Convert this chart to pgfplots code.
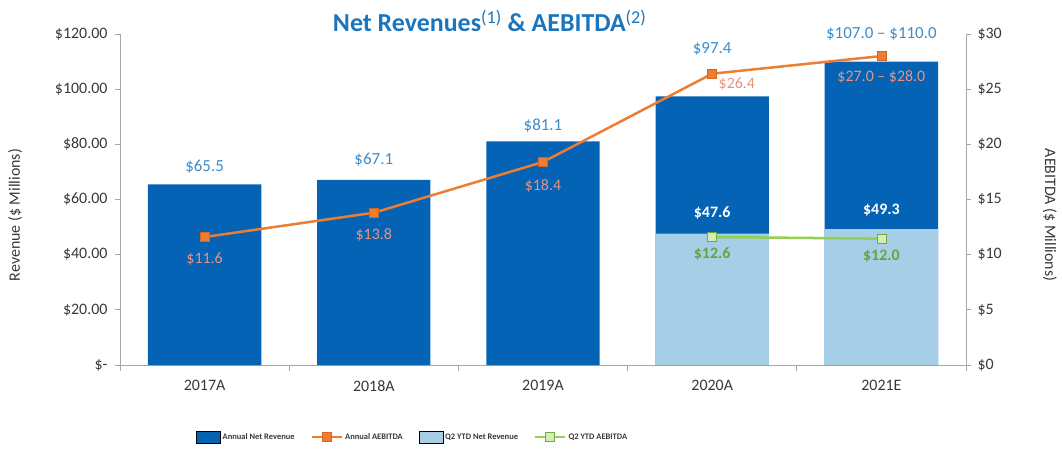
\documentclass[border=0pt]{standalone}
\usepackage{pgfplots}
\pgfplotsset{compat=1.18}
\usepackage{fontspec}
\setmainfont{Carlito}

\definecolor{darkblue}{RGB}{5,99,181}
\definecolor{lightblue}{RGB}{166,206,231}
\definecolor{aorange}{RGB}{237,125,49}
\definecolor{aorangedk}{RGB}{214,100,30}
\definecolor{qgreen}{RGB}{146,208,80}
\definecolor{qgreenfill}{RGB}{215,234,185}
\definecolor{qgreendk}{RGB}{110,170,60}
\definecolor{vblue}{RGB}{60,140,200}
\definecolor{salmon}{RGB}{230,148,130}
\definecolor{glab}{RGB}{100,165,65}
\definecolor{titleblue}{RGB}{27,117,188}
\definecolor{ticktext}{RGB}{56,56,56}
\definecolor{axisgray}{RGB}{166,166,166}

\pgfplotsset{
  swatch/.style={legend image code/.code={\fill[##1] (0bp,-6bp) rectangle (24bp,6bp);}},
  lineleg/.style={legend image code/.code={\draw[mark repeat=2,mark phase=2,##1] plot coordinates {(0bp,0bp) (15bp,0bp) (30bp,0bp)};}},
  common/.style={
    at={(0,0)}, anchor=south west,
    scale only axis, width=846bp, height=331bp,
    xmin=-0.5, xmax=4.5,
    axis line style={draw=axisgray, line width=0.8bp, -},
    tick style={draw=axisgray, line width=0.8bp},
    tick align=outside, major tick length=5bp, minor tick length=6bp,
    ticklabel style={font=\fontsize{16}{18}\selectfont, text=ticktext},
    clip=false,
  },
}
\tikzset{
  vlab/.style={font=\fontsize{17}{19}\selectfont, text=vblue},
  olab/.style={font=\fontsize{16}{18}\selectfont, text=salmon},
  glabel/.style={font=\fontsize{16}{18}\selectfont\bfseries, text=glab},
  wlab/.style={font=\fontsize{16}{18}\selectfont\bfseries, text=white},
}

\begin{document}
\begin{tikzpicture}
\path[use as bounding box] (-120bp,-84bp) rectangle (942bp,365bp);

% revenue (left axis)
\begin{axis}[common,
  ymin=0, ymax=120,
  axis y line*=left, axis x line*=bottom,
  xtick={0,...,4}, xticklabels={2017A,2018A,2019A,2020A,2021E},
  major x tick style={draw=none},
  minor xtick={-0.5,0.5,...,4.5},
  ytick={0,20,...,120},
  yticklabels={\$-,\$20.00,\$40.00,\$60.00,\$80.00,\$100.00,\$120.00},
  yticklabel style={xshift=-4bp},
  xticklabel style={yshift=-7bp},
]
\addplot[ybar, bar width=0.67, bar shift=0pt, fill=darkblue, draw=none]
  coordinates {(0,65.5) (1,67.1) (2,81.1) (3,97.4) (4,110.0)};
\addplot[ybar, bar width=0.67, bar shift=0pt, fill=lightblue, draw=none]
  coordinates {(3,47.6) (4,49.3)};

\node[vlab] at (axis cs:0,71.8) {\$65.5};
\node[vlab] at (axis cs:1,74.3) {\$67.1};
\node[vlab] at (axis cs:2,86.6) {\$81.1};
\node[vlab] at (axis cs:3,114.6) {\$97.4};
\node[vlab] at (axis cs:4,120.0) {\$107.0 – \$110.0};
\node[olab] at (axis cs:0,38.4) {\$11.6};
\node[olab] at (axis cs:1,47.1) {\$13.8};
\node[olab] at (axis cs:2,64.9) {\$18.4};
\node[olab] at (axis cs:3.146,101.9) {\$26.4};
\node[olab] at (axis cs:4,104.4) {\$27.0 – \$28.0};
\node[wlab] at (axis cs:3,55.1) {\$47.6};
\node[wlab] at (axis cs:4,56.2) {\$49.3};
\node[glabel] at (axis cs:3,40.2) {\$12.6};
\node[glabel] at (axis cs:4,39.5) {\$12.0};

\node[anchor=base, font=\fontsize{26}{30}\selectfont\bfseries, text=titleblue]
  at ([yshift=2bp]rel axis cs:0.437,1) {Net Revenues\textsuperscript{\mdseries(1)} \& AEBITDA\textsuperscript{\mdseries(2)}};
\node[rotate=90, font=\fontsize{16}{18}\selectfont, text=ticktext] at (rel axis cs:-0.124,0.453) {Revenue (\$ Millions)};
\node[rotate=-90, font=\fontsize{16}{18}\selectfont, text=ticktext] at (rel axis cs:1.099,0.453) {AEBITDA (\$ Millions)};
\end{axis}

% AEBITDA (right axis)
\begin{axis}[common,
  ymin=0, ymax=30,
  axis y line*=right, axis x line=none,
  ytick={0,5,...,30},
  yticklabels={\$0,\$5,\$10,\$15,\$20,\$25,\$30},
  yticklabel style={xshift=3bp},
  legend columns=4,
  legend style={draw=none, fill=none, at={(0.346,-0.2175)}, anchor=center,
    font=\fontsize{8.5}{10}\selectfont\bfseries, text=ticktext,
    /tikz/every even column/.append style={column sep=14bp}},
]
\addlegendimage{swatch, fill=darkblue}
\addlegendentry{Annual Net Revenue}
\addplot[lineleg, color=aorange, line width=2.5bp, mark=square*,
  mark size=4.5bp, mark options={fill=aorange, draw=aorangedk, line width=0.8bp}]
  coordinates {(0,11.6) (1,13.8) (2,18.4) (3,26.4) (4,28.0)};
\addlegendentry{Annual AEBITDA}
\addlegendimage{swatch, fill=lightblue}
\addlegendentry{Q2 YTD Net Revenue}
\addplot[lineleg, color=qgreen, line width=2.5bp, mark=square*,
  mark size=4.5bp, mark options={fill=qgreenfill, draw=qgreendk, line width=0.8bp}]
  coordinates {(3,11.6) (4,11.45)};
\addlegendentry{Q2 YTD AEBITDA}
\end{axis}
\end{tikzpicture}
\end{document}
